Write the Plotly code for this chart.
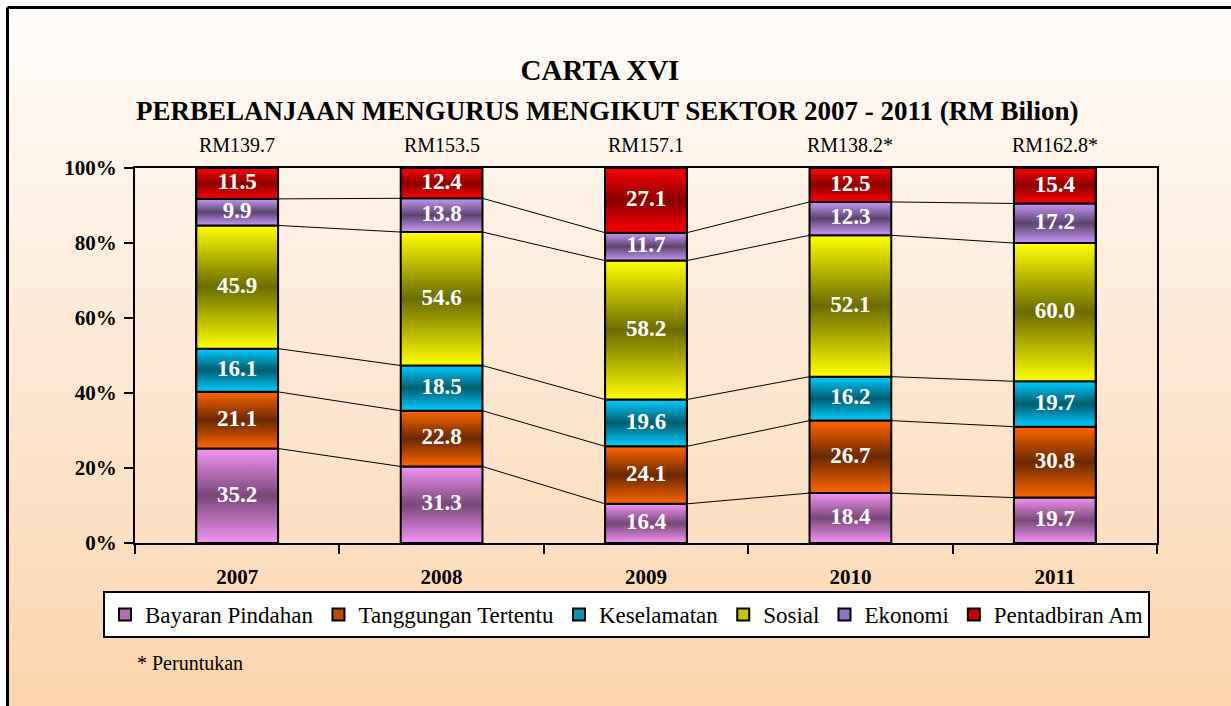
import numpy as np
import plotly.graph_objects as go

# ---------------- data ----------------
years = ["2007", "2008", "2009", "2010", "2011"]
total_labels = ["RM139.7", "RM153.5", "RM157.1", "RM138.2*", "RM162.8*"]
series_names = ["Bayaran Pindahan", "Tanggungan Tertentu", "Keselamatan",
                "Sosial", "Ekonomi", "Pentadbiran Am"]
bayaran_pindahan = [35.2, 31.3, 16.4, 18.4, 19.7]
tanggungan_tertentu = [21.1, 22.8, 24.1, 26.7, 30.8]
keselamatan = [16.1, 18.5, 19.6, 16.2, 19.7]
sosial = [45.9, 54.6, 58.2, 52.1, 60.0]
ekonomi = [9.9, 13.8, 11.7, 12.3, 17.2]
pentadbiran_am = [11.5, 12.4, 27.1, 12.5, 15.4]
series_values = [bayaran_pindahan, tanggungan_tertentu, keselamatan,
                 sosial, ekonomi, pentadbiran_am]

# ---------------- styles ----------------
light_cols = ["#F594F5", "#FF6600", "#00CCFF", "#FFFF00", "#C898F5", "#FF0000"]
dark_cols = ["#784878", "#6A2800", "#005E70", "#6C6C00", "#5C4470", "#8A0000"]
legend_cols = ["#B070B0", "#C04C00", "#1090B0", "#C4C400", "#9272C4", "#C80000"]

FONT = "Liberation Serif"
W, H = 1231, 706
L, R, T, B = 135, 74, 168, 163
PW, PH = W - L - R, H - T - B


def px_x(px):
    return (px - L) / PW


def px_y(py):
    return (H - B - py) / PH


fig = go.Figure()

xs = np.arange(len(years))
vals = np.array(series_values, dtype=float)
pct = vals / vals.sum(axis=0) * 100
cum_top = np.cumsum(pct, axis=0)
cum_bot = cum_top - pct
bw = 0.4

# real bar traces (structure + legend)
for s, name in enumerate(series_names):
    fig.add_trace(go.Bar(
        x=xs, y=series_values[s], name=name, width=bw,
        marker=dict(color=legend_cols[s], line=dict(color="black", width=2)),
        hoverinfo="skip"))

# gradient fill over each bar segment
for s in range(len(series_names)):
    cs = [[0, light_cols[s]], [0.5, dark_cols[s]], [1, light_cols[s]]]
    for i in range(len(years)):
        y0, y1 = cum_bot[s, i], cum_top[s, i]
        fig.add_trace(go.Scatter(
            x=[xs[i] - bw / 2, xs[i] + bw / 2, xs[i] + bw / 2, xs[i] - bw / 2, xs[i] - bw / 2],
            y=[y0, y0, y1, y1, y0],
            mode="lines", fill="toself",
            fillgradient=dict(type="vertical", colorscale=cs),
            line=dict(color="black", width=2),
            showlegend=False, hoverinfo="skip"))

# connector (series) lines
for s in range(len(series_names) - 1):
    lx, ly = [], []
    for i in range(len(years) - 1):
        lx += [xs[i] + bw / 2, xs[i + 1] - bw / 2, None]
        ly += [cum_top[s, i], cum_top[s, i + 1], None]
    fig.add_trace(go.Scatter(x=lx, y=ly, mode="lines",
                             line=dict(color="black", width=1),
                             showlegend=False, hoverinfo="skip"))

# value labels
for s in range(len(series_names)):
    fig.add_trace(go.Scatter(
        x=xs, y=(cum_bot[s] + cum_top[s]) / 2, mode="text",
        text=[f"{v:.1f}" for v in series_values[s]],
        textposition="middle center",
        textfont=dict(family=FONT, size=23, color="white", weight="bold"),
        showlegend=False, hoverinfo="skip"))

# background gradient + frame
shapes = []
top_rgb = np.array([255, 253, 251])
bot_rgb = np.array([252, 213, 174])
y_start, y_end = 7.5, H
n = 120
for k in range(n):
    a = y_start + (y_end - y_start) * k / n
    b = y_start + (y_end - y_start) * (k + 1) / n + 0.6
    t = (k + 0.5) / n
    c = top_rgb + (bot_rgb - top_rgb) * t
    shapes.append(dict(type="rect", xref="paper", yref="paper", layer="below",
                       x0=px_x(7.5), x1=px_x(W + 5), y0=px_y(b), y1=px_y(a),
                       line=dict(width=0),
                       fillcolor=f"rgb({int(c[0])},{int(c[1])},{int(c[2])})"))
shapes.append(dict(type="line", xref="paper", yref="paper", layer="above",
                   x0=px_x(7.5), x1=px_x(W + 5), y0=px_y(7.5), y1=px_y(7.5),
                   line=dict(color="black", width=3)))
shapes.append(dict(type="line", xref="paper", yref="paper", layer="above",
                   x0=px_x(7.5), x1=px_x(7.5), y0=px_y(7.5), y1=px_y(H + 5),
                   line=dict(color="black", width=3)))

annotations = []
for i, lab in enumerate(total_labels):
    annotations.append(dict(text=lab, x=xs[i], xref="x", y=px_y(145), yref="paper",
                            showarrow=False, yanchor="middle",
                            font=dict(family=FONT, size=20, color="black")))
annotations.append(dict(text="PERBELANJAAN MENGURUS MENGIKUT SEKTOR 2007 - 2011 (RM Bilion)",
                        x=px_x(607), xref="paper", y=px_y(111), yref="paper",
                        showarrow=False, xanchor="center", yanchor="middle",
                        font=dict(family=FONT, size=27, color="black", weight="bold")))
annotations.append(dict(text="* Peruntukan", x=px_x(135), xref="paper", y=px_y(663),
                        yref="paper", showarrow=False, xanchor="left", yanchor="middle",
                        font=dict(family=FONT, size=20, color="black")))

fig.update_layout(
    width=W, height=H, autosize=False,
    margin=dict(l=L, r=R, t=T, b=B),
    paper_bgcolor="white", plot_bgcolor="rgba(0,0,0,0)",
    barmode="stack", barnorm="percent",
    title=dict(text="CARTA XVI", x=600 / W, xanchor="center",
               y=(H - 70) / H, yanchor="middle", yref="container",
               font=dict(family=FONT, size=29, color="black", weight="bold")),
    shapes=shapes, annotations=annotations,
    legend=dict(orientation="h", traceorder="normal",
                x=px_x(103), xanchor="left",
                y=px_y(591), yanchor="top", bgcolor="white",
                bordercolor="black", borderwidth=2, itemwidth=30,
                font=dict(family=FONT, size=23, color="black")),
    xaxis=dict(range=[-0.5, 4.5], tickmode="array", tickvals=list(xs), ticktext=years,
               ticks="", showline=True, linecolor="black", linewidth=2, mirror=True,
               showgrid=False, zeroline=False, ticklabelstandoff=14,
               tickfont=dict(family=FONT, size=21, color="black", weight="bold"),
               minor=dict(tickmode="array", tickvals=[v - 0.5 for v in range(len(years) + 1)],
                          ticks="outside", ticklen=9, tickwidth=2, tickcolor="black",
                          showgrid=False)),
    yaxis=dict(range=[0, 100], tickmode="array", tickvals=[0, 20, 40, 60, 80, 100],
               ticktext=["0%", "20%", "40%", "60%", "80%", "100%"],
               ticks="outside", ticklen=9, tickwidth=2, tickcolor="black",
               showline=True, linecolor="black", linewidth=2, mirror=True,
               showgrid=False, zeroline=False, ticklabelstandoff=3,
               tickfont=dict(family=FONT, size=21, color="black", weight="bold")),
)

fig.write_html("out.html", config={"displayModeBar": False},
               post_script="document.body.style.margin='0';document.body.style.overflow='hidden';")
